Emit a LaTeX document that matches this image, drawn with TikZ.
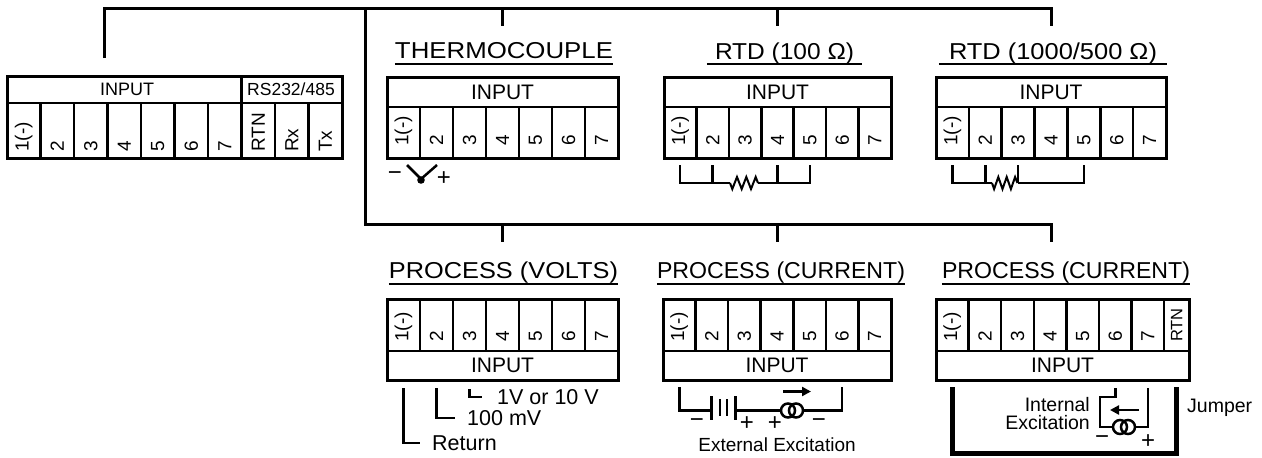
\documentclass[tikz,border=0pt]{standalone}
\usepackage{fontspec}
\setmainfont{Liberation Sans}
\usetikzlibrary{arrows.meta, calc}

\newcommand{\fsz}[1]{\fontsize{#1}{#1}\selectfont}

\begin{document}
\begin{tikzpicture}[x = 1pt, y = -1pt,
	box/.style = {line width = 3pt},
	divline/.style = {line width = 2.5pt},
	wire/.style = {line width = 2.5pt},
	tree/.style = {line width = 3pt},
	pin/.style = {rotate = 90, anchor = west, inner sep = 0pt, font = \fsz{19}},
	hdr/.style = {inner sep = 0pt, font = \fsz{21}},
	ttl/.style = {anchor = base, inner sep = 0pt, font = \fsz{23}},
	uline/.style = {line width = 2.5pt},
	lbl/.style = {inner sep = 0pt, font = \fsz{19}},
	sgn/.style = {inner sep = 0pt, font = \fsz{24}},
	ring/.style = {circle, draw, line width = 2.5pt, minimum size = 14pt, inner sep = 0pt}]

	\useasboundingbox (0,0) rectangle (1262,458);

	% main input block
	\draw[box] (7,76) rectangle (342,158);
	\draw[divline] (7,103) -- (342,103);
	\draw[divline] (241.5,76) -- (241.5,158);
	\foreach \i in {1,...,9}
		\draw[divline] ({7+33.5*\i},103) -- ({7+33.5*\i},158);
	\node[hdr, font = \fsz{18}] (m-in) at (127,89.5) {INPUT};
	\node[hdr, font = \fsz{17.5}] (m-rs) at (291,89.5) {RS232/485};
	\foreach \t [count = \i] in {1(-),2,3,4,5,6,7,RTN,Rx,Tx}
		\node[pin] (m-\i) at ({7+33.5*(\i-0.5)},152) {\t};

	% thermocouple
	\draw[box] (387,77) rectangle (618,158);
	\draw[divline] (387,107) -- (618,107);
	\foreach \i in {1,...,6}
		\draw[divline] ({387+33*\i},107) -- ({387+33*\i},158);
	\node[hdr] (tc-in) at (502.5,92) {INPUT};
	\foreach \t [count = \i] in {1(-),2,3,4,5,6,7}
		\node[pin] (tc-\i) at ({387+33*(\i-0.5)},146) {\t};
	\node[ttl] (tc-t) at (504,58.5) {\resizebox{218pt}{\height}{THERMOCOUPLE}};
	\draw[uline] ([yshift = -5.5pt]tc-t.base west) -- ([yshift = -5.5pt]tc-t.base east);
	\draw[wire] (407,165) -- (421,179) -- (437,165);
	\fill (421,180) circle (3.8);
	\node[sgn] (tc-neg) at (395,176) {−};
	\node[sgn] (tc-pos) at (444,179) {+};

	% rtd 100
	\draw[box] (664,77) rectangle (891,158);
	\draw[divline] (664,107) -- (891,107);
	\foreach \i in {1,...,6}
		\draw[divline] ({664+32.43*\i},107) -- ({664+32.43*\i},158);
	\node[hdr] (ra-in) at (777.5,92) {INPUT};
	\foreach \t [count = \i] in {1(-),2,3,4,5,6,7}
		\node[pin] (ra-\i) at ({664+32.43*(\i-0.5)},146) {\t};
	\node[ttl, inner xsep = 8pt] (ra-t) at (784.5,59) {\resizebox{139pt}{\height}{RTD (100 Ω)}};
	\draw[uline] ([yshift = -5pt]ra-t.base west) -- ([yshift = -5pt]ra-t.base east);
	\draw[wire] (ra-1 |- 0,165) -- (ra-1 |- 0,183) -- (730,183);
	\draw[line width = 2pt] (730,183) -- (732.3,189) -- (737,177) -- (741.7,189) -- (746.3,177) -- (751,189) -- (755.7,177) -- (758,183);
	\draw[wire] (758,183) -- (ra-5 |- 0,183) -- (ra-5 |- 0,165);
	\draw[wire] (ra-2 |- 0,165) -- (ra-2 |- 0,183);
	\draw[wire] (ra-4 |- 0,165) -- (ra-4 |- 0,183);

	% rtd 1000/500
	\draw[box] (936,77) rectangle (1166,158);
	\draw[divline] (936,107) -- (1166,107);
	\foreach \i in {1,...,6}
		\draw[divline] ({936+32.86*\i},107) -- ({936+32.86*\i},158);
	\node[hdr] (rb-in) at (1051,92) {INPUT};
	\foreach \t [count = \i] in {1(-),2,3,4,5,6,7}
		\node[pin] (rb-\i) at ({936+32.86*(\i-0.5)},146) {\t};
	\node[ttl, inner xsep = 10pt] (rb-t) at (1053,59) {\resizebox{208pt}{\height}{RTD (1000/500 Ω)}};
	\draw[uline] ([yshift = -5pt]rb-t.base west) -- ([yshift = -5pt]rb-t.base east);
	\draw[wire] (rb-1 |- 0,165) -- (rb-1 |- 0,183) -- (992,183);
	\draw[line width = 2pt] (992,183) -- (994.1,189) -- (998.3,177) -- (1002.5,189) -- (1006.7,177) -- (1010.9,189) -- (1015.1,177) -- (1017.5,183);
	\draw[wire] (1017.5,183) -- (rb-5 |- 0,183) -- (rb-5 |- 0,165);
	\draw[wire] (rb-2 |- 0,165) -- (rb-2 |- 0,183);
	\draw[wire] (rb-3 |- 0,165) -- (rb-3 |- 0,183);

	% process volts
	\draw[box] (387,299) rectangle (618,380);
	\draw[divline] (387,351) -- (618,351);
	\foreach \i in {1,...,6}
		\draw[divline] ({387+33*\i},299) -- ({387+33*\i},351);
	\node[hdr] (cv-in) at (502.5,365.5) {INPUT};
	\foreach \t [count = \i] in {1(-),2,3,4,5,6,7}
		\node[pin] (cv-\i) at ({387+33*(\i-0.5)},342) {\t};
	\node[ttl] (cv-t) at (503.5,278.5) {\resizebox{229pt}{\height}{PROCESS (VOLTS)}};
	\draw[uline] ([yshift = -5.5pt]cv-t.base west) -- ([yshift = -5.5pt]cv-t.base east);
	\draw[wire] (cv-1 |- 0,388) -- (cv-1 |- 0,443) -- (420,443);
	\draw[wire] (cv-2 |- 0,388) -- (cv-2 |- 0,418) -- (455,418);
	\draw[wire] (cv-3 |- 0,389) -- (cv-3 |- 0,397) -- (482,397);
	\node[lbl, anchor = west, font = \fsz{21.5}] (cv-ret) at (432,443) {Return};
	\node[lbl, anchor = west, font = \fsz{21.5}] (cv-mv) at (467,418) {100 mV};
	\node[lbl, anchor = west, font = \fsz{21.5}] (cv-v) at (497,397) {1V or 10 V};

	% process current, external
	\draw[box] (663,299) rectangle (891,380);
	\draw[divline] (663,351) -- (891,351);
	\foreach \i in {1,...,6}
		\draw[divline] ({663+32.57*\i},299) -- ({663+32.57*\i},351);
	\node[hdr] (ce-in) at (777,365.5) {INPUT};
	\foreach \t [count = \i] in {1(-),2,3,4,5,6,7}
		\node[pin] (ce-\i) at ({663+32.57*(\i-0.5)},342) {\t};
	\node[ttl] (ce-t) at (781,278.5) {\resizebox{248pt}{\height}{PROCESS (CURRENT)}};
	\draw[uline] ([yshift = -5.5pt]ce-t.base west) -- ([yshift = -5.5pt]ce-t.base east);
	\node[ring] (ce-s1) at (788,410.5) {};
	\node[ring] (ce-s2) at (796,410.5) {};
	\draw[wire] (ce-1 |- 0,387) -- (ce-1 |- 0,410.5) -- (711.5,410.5);
	\draw[line width = 3pt] (711.5,396) -- (711.5,420);
	\draw[wire] (720,399) -- (720,416);
	\draw[wire] (727,399) -- (727,416);
	\draw[line width = 3pt] (735,396) -- (735,420);
	\draw[wire] (735,410.5) -- (ce-s1.west);
	\draw[wire] (ce-s2.east) -- (ce-6 |- ce-s2) -- (ce-6 |- 0,387);
	\draw[wire, -{Triangle[length = 9pt, width = 9pt]}] (783,391.5) -- (811,391.5);
	\node[sgn] (ce-n1) at (697,423) {−};
	\node[sgn] (ce-p1) at (747,424) {+};
	\node[sgn] (ce-p2) at (775,424) {+};
	\node[sgn] (ce-n2) at (819,423) {−};
	\node[lbl] (ce-txt) at (777,445) {External Excitation};

	% process current, internal
	\draw[box] (936,299) rectangle (1189,380);
	\draw[divline] (936,351) -- (1189,351);
	\foreach \i in {1,...,7}
		\draw[divline] ({936+32.6*\i},299) -- ({936+32.6*\i},351);
	\node[hdr] (ci-in) at (1062.5,365.5) {INPUT};
	\foreach \t [count = \i] in {1(-),2,3,4,5,6,7}
		\node[pin] (ci-\i) at ({936+32.6*(\i-0.5)},342) {\t};
	\node[pin, font = \fsz{16.5}] (ci-8) at (1176.7,342) {RTN};
	\node[ttl] (ci-t) at (1066,278.5) {\resizebox{248pt}{\height}{PROCESS (CURRENT)}};
	\draw[uline] ([yshift = -5.5pt]ci-t.base west) -- ([yshift = -5.5pt]ci-t.base east);
	\node[ring] (ci-s1) at (1120,427) {};
	\node[ring] (ci-s2) at (1128,427) {};
	\draw[wire] (ci-6 |- 0,388) -- (ci-6 |- 0,397) -- (1100,397) -- (1100,427) -- (ci-s1.west);
	\draw[wire] (ci-s2.east) -- (ci-7 |- ci-s2) -- (ci-7 |- 0,388);
	\draw[wire, -{Triangle[length = 9pt, width = 9pt]}] (1139,410) -- (1110,410);
	\draw[line width = 5pt] (ci-1 |- 0,387) -- (ci-1 |- 0,453) -- (ci-8 |- 0,453) -- (ci-8 |- 0,387);
	\node[lbl, align = right, anchor = east, font = \fontsize{19.5}{18}\selectfont] (ci-txt) at (1090,414) {Internal\\Excitation};
	\node[sgn] (ci-n) at (1102,440) {−};
	\node[sgn] (ci-p) at (1148,442) {+};
	\node[lbl, anchor = west, font = \fsz{19.5}] (jmp) at (1187,408) {Jumper};

	% distribution lines
	\coordinate (top-l) at (104,8);
	\coordinate (top-r) at (1051,8);
	\coordinate (mid-l) at (365,224);
	\coordinate (mid-r) at (1051,224);
	\coordinate (m-stub) at (104,58);
	\draw[tree] (m-stub) -- (top-l) -- (top-r) -- (top-r |- 0,26);
	\draw[tree] (top-l -| mid-l) -- (mid-l) -- (mid-r) -- (mid-r |- 0,242);
	\draw[tree] (tc-in |- top-l) -- (tc-in |- 0,26);
	\draw[tree] (ra-in |- top-l) -- (ra-in |- 0,26);
	\draw[tree] (cv-in |- mid-l) -- (cv-in |- 0,242);
	\draw[tree] (ce-in |- mid-l) -- (ce-in |- 0,242);
\end{tikzpicture}
\end{document}
